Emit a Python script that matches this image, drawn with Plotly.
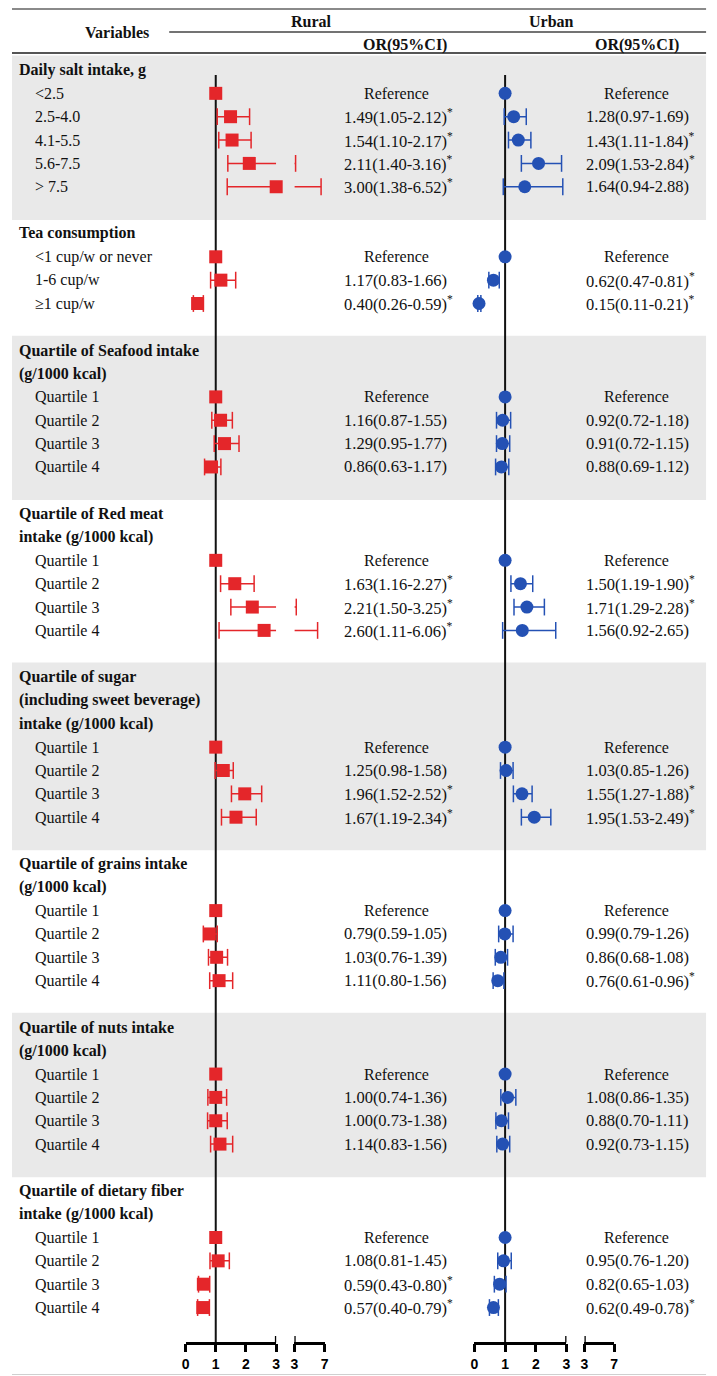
import plotly.graph_objects as go

W, H = 717, 1376          # target picture
OFF = 8                   # browser body margin
FW, FH = W - OFF, H - OFF  # figure size

# ---------------- data ----------------
group_titles = [
    ["Daily salt intake, g"],
    ["Tea consumption"],
    ["Quartile of Seafood intake", "(g/1000 kcal)"],
    ["Quartile of Red meat", "intake (g/1000 kcal)"],
    ["Quartile of sugar", "(including sweet beverage)", "intake (g/1000 kcal)"],
    ["Quartile of grains intake", "(g/1000 kcal)"],
    ["Quartile of nuts intake", "(g/1000 kcal)"],
    ["Quartile of dietary fiber", "intake (g/1000 kcal)"],
]
quartiles = ["Quartile 1", "Quartile 2", "Quartile 3", "Quartile 4"]
group_levels = [
    ["<2.5", "2.5-4.0", "4.1-5.5", "5.6-7.5", "> 7.5"],
    ["<1 cup/w or never", "1-6 cup/w", "≥1 cup/w"],
    quartiles, quartiles, quartiles, quartiles, quartiles, quartiles,
]
shaded_groups = [0, 2, 4, 6]

# None = reference category (OR = 1)
rural_or = [None, 1.49, 1.54, 2.11, 3.00,
            None, 1.17, 0.40,
            None, 1.16, 1.29, 0.86,
            None, 1.63, 2.21, 2.60,
            None, 1.25, 1.96, 1.67,
            None, 0.79, 1.03, 1.11,
            None, 1.00, 1.00, 1.14,
            None, 1.08, 0.59, 0.57]
rural_lo = [None, 1.05, 1.10, 1.40, 1.38,
            None, 0.83, 0.26,
            None, 0.87, 0.95, 0.63,
            None, 1.16, 1.50, 1.11,
            None, 0.98, 1.52, 1.19,
            None, 0.59, 0.76, 0.80,
            None, 0.74, 0.73, 0.83,
            None, 0.81, 0.43, 0.40]
rural_hi = [None, 2.12, 2.17, 3.16, 6.52,
            None, 1.66, 0.59,
            None, 1.55, 1.77, 1.17,
            None, 2.27, 3.25, 6.06,
            None, 1.58, 2.52, 2.34,
            None, 1.05, 1.39, 1.56,
            None, 1.36, 1.38, 1.56,
            None, 1.45, 0.80, 0.79]
urban_or = [None, 1.28, 1.43, 2.09, 1.64,
            None, 0.62, 0.15,
            None, 0.92, 0.91, 0.88,
            None, 1.50, 1.71, 1.56,
            None, 1.03, 1.55, 1.95,
            None, 0.99, 0.86, 0.76,
            None, 1.08, 0.88, 0.92,
            None, 0.95, 0.82, 0.62]
urban_lo = [None, 0.97, 1.11, 1.53, 0.94,
            None, 0.47, 0.11,
            None, 0.72, 0.72, 0.69,
            None, 1.19, 1.29, 0.92,
            None, 0.85, 1.27, 1.53,
            None, 0.79, 0.68, 0.61,
            None, 0.86, 0.70, 0.73,
            None, 0.76, 0.65, 0.49]
urban_hi = [None, 1.69, 1.84, 2.84, 2.88,
            None, 0.81, 0.21,
            None, 1.18, 1.15, 1.12,
            None, 1.90, 2.28, 2.65,
            None, 1.26, 1.88, 2.49,
            None, 1.26, 1.08, 0.96,
            None, 1.35, 1.11, 1.15,
            None, 1.20, 1.03, 0.78]

axis_main_ticks = [0, 1, 2, 3]
axis_break_ticks = [3, 7]
BRK = 3.0

# ---------------- layout helpers ----------------
Y0, PITCH = 70.0, 23.35          # target pixel of row 0 and row pitch
AXIS_PIX = 1342.5
RED, BLUE = "#E4262A", "#2451B4"
SERIF = "Liberation Serif, Times New Roman, serif"
TXT = "#111111"
LPAD = 3                          # annotation inner padding compensation


def px(x):
    return (x - OFF) / FW


def py(y):
    return 1 - (y - OFF) / FH


def row_of_pix(p):
    return (p - Y0) / PITCH


title_rows, level_rows, bands = [], [], []
i = 0
for g, (titles, levels) in enumerate(zip(group_titles, group_levels)):
    start = i
    for t in titles:
        title_rows.append((t, i))
        i += 1
    for lv in levels:
        level_rows.append((lv, i))
        i += 1
    i += 1
    if g in shaded_groups:
        bands.append((start - 0.62, i - 1 + 0.42))
level_y = [r for _, r in level_rows]

fig = go.Figure()


def add_panel(ors, los, his, xa_main, xa_break, color, symbol):
    s1x, s1y, c1x, c1y = [], [], [], []
    s2x, s2y, c2x, c2y = [], [], [], []
    mx, my = [], []
    for o, lo, hi, y in zip(ors, los, his, level_y):
        mx.append(1.0 if o is None else o)
        my.append(y)
        if lo is None:
            continue
        if hi <= BRK:
            s1x += [lo, hi, None]; s1y += [y, y, None]
            c1x += [lo, hi]; c1y += [y, y]
        else:
            s1x += [lo, BRK, None]; s1y += [y, y, None]
            c1x += [lo]; c1y += [y]
            s2x += [BRK, hi, None]; s2y += [y, y, None]
            c2x += [hi]; c2y += [y]
    for xs, ys, cx, cy, xa in [(s1x, s1y, c1x, c1y, xa_main), (s2x, s2y, c2x, c2y, xa_break)]:
        fig.add_trace(go.Scatter(x=xs, y=ys, xaxis=xa, yaxis="y", mode="lines",
                                 line=dict(color=color, width=1.5), hoverinfo="skip",
                                 showlegend=False, cliponaxis=False))
        fig.add_trace(go.Scatter(x=cx, y=cy, xaxis=xa, yaxis="y", mode="markers",
                                 marker=dict(symbol="line-ns", size=12,
                                             line=dict(color=color, width=1.5)),
                                 hoverinfo="skip", showlegend=False, cliponaxis=False))
    fig.add_trace(go.Scatter(x=mx, y=my, xaxis=xa_main, yaxis="y", mode="markers",
                             marker=dict(symbol=symbol, size=13, color=color, line=dict(width=0)),
                             showlegend=False, cliponaxis=False))


shapes = []
for b0, b1 in bands:
    top = max(b0, row_of_pix(53.5))
    shapes.append(dict(type="rect", xref="paper", yref="y", x0=px(8), x1=px(710),
                       y0=top, y1=b1, fillcolor="#E9E9E9", line=dict(width=0), layer="below"))

# reference lines at OR = 1
for xa in ["x", "x3"]:
    shapes.append(dict(type="line", xref=xa, yref="y", x0=1, x1=1,
                       y0=row_of_pix(75), y1=row_of_pix(AXIS_PIX),
                       line=dict(color="#111111", width=2), layer="below"))

# break marks at the axis break (short upward ticks)
for xa in ["x", "x2", "x3", "x4"]:
    shapes.append(dict(type="line", xref=xa, yref="paper", x0=BRK, x1=BRK,
                       y0=py(1336), y1=py(AXIS_PIX), line=dict(color="#000000", width=2.6)))

# table rules
shapes.append(dict(type="line", xref="paper", yref="paper", x0=px(8), x1=px(710),
                   y0=py(9), y1=py(9), line=dict(color="#8a8a8a", width=2.2)))
shapes.append(dict(type="line", xref="paper", yref="paper", x0=px(167), x1=px(710),
                   y0=py(32), y1=py(32), line=dict(color="#444444", width=1.5)))
shapes.append(dict(type="line", xref="paper", yref="paper", x0=px(8), x1=px(710),
                   y0=py(53), y1=py(53), line=dict(color="#555555", width=1.8)))
shapes.append(dict(type="line", xref="paper", yref="paper", x0=px(8), x1=px(710),
                   y0=py(1374.5), y1=py(1374.5), line=dict(color="#d0d0d0", width=1)))

add_panel(rural_or, rural_lo, rural_hi, "x", "x2", RED, "square")
add_panel(urban_or, urban_lo, urban_hi, "x3", "x4", BLUE, "circle")

# ---------------- text ----------------
ann = []


def A(text, x, y, yref="paper", xanchor="left", bold=False, size=16):
    ann.append(dict(text=("<b>%s</b>" % text) if bold else text, x=x, y=y, xref="paper",
                    yref=yref, xanchor=xanchor, yanchor="middle", showarrow=False,
                    font=dict(family=SERIF, size=size, color=TXT)))


A("Variables", px(114), py(33), xanchor="center", bold=True)
A("Rural", px(311), py(21), xanchor="center", bold=True)
A("Urban", px(554), py(21), xanchor="center", bold=True)
A("OR(95%CI)", px(405), py(45), xanchor="center", bold=True)
A("OR(95%CI)", px(640), py(45), xanchor="center", bold=True)

for t, r in title_rows:
    A(t, px(16 - LPAD), r, yref="y", bold=True)
for t, r in level_rows:
    A(t, px(32 - LPAD), r, yref="y")


def value_texts(ors, los, his, ref_cx, left_x):
    for o, lo, hi, y in zip(ors, los, his, level_y):
        if o is None:
            A("Reference", px(ref_cx), y, yref="y", xanchor="center")
        else:
            sig = lo > 1 or hi < 1
            s = "%.2f(%.2f-%.2f)" % (o, lo, hi) + ("<sup>*</sup>" if sig else "")
            A(s, px(left_x - LPAD), y, yref="y", size=16.5)


value_texts(rural_or, rural_lo, rural_hi, 397, 345)
value_texts(urban_or, urban_lo, urban_hi, 640, 590)

# ---------------- axes ----------------
tickfont = dict(family="Liberation Sans Narrow, Arial Narrow, Liberation Sans, Arial",
                size=14, color="#000000", weight="bold")
axpos = py(AXIS_PIX)


def xax(dom, rng, ticks):
    return dict(domain=[px(dom[0]), px(dom[1])], range=rng, anchor="free", position=axpos,
                showline=True, linecolor="#000000", linewidth=2.6, ticks="outside",
                ticklen=8, tickwidth=2.6, tickcolor="#000000", tickvals=ticks,
                ticktext=[str(t) for t in ticks], tickfont=tickfont, showgrid=False,
                zeroline=False, fixedrange=True)


fig.update_layout(
    width=FW, height=FH, margin=dict(l=0, r=0, t=0, b=0),
    paper_bgcolor="white", plot_bgcolor="rgba(0,0,0,0)",
    xaxis=xax((183.5, 275.2), [0, 3], axis_main_ticks),
    xaxis2=xax((293.6, 324.3), [3, 7], axis_break_ticks),
    xaxis3=xax((475.7, 568.8), [0, 3], axis_main_ticks),
    xaxis4=xax((587.0, 617.0), [3, 7], axis_break_ticks),
    yaxis=dict(domain=[0, 1], range=[row_of_pix(H), row_of_pix(OFF)], visible=False,
               fixedrange=True),
    shapes=shapes, annotations=ann, showlegend=False,
)

fig.write_html("out.html")
